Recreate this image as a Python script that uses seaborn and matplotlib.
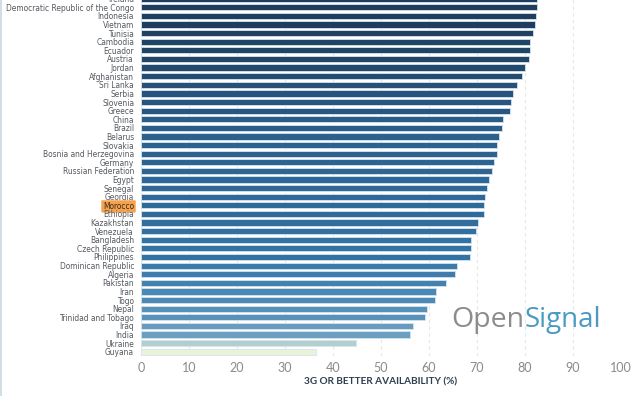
import matplotlib
matplotlib.use("Agg")
import matplotlib.pyplot as plt
from matplotlib.colors import LinearSegmentedColormap
from matplotlib.lines import Line2D
import seaborn as sns
import pandas as pd
import numpy as np

countries = [
    "Ireland", "Democratic Republic of the Congo", "Indonesia", "Vietnam", "Tunisia",
    "Cambodia", "Ecuador", "Austria", "Jordan", "Afghanistan", "Sri Lanka", "Serbia",
    "Slovenia", "Greece", "China", "Brazil", "Belarus", "Slovakia",
    "Bosnia and Herzegovina", "Germany", "Russian Federation", "Egypt", "Senegal",
    "Georgia", "Morocco", "Ethiopia", "Kazakhstan", "Venezuela", "Bangladesh",
    "Czech Republic", "Philippines", "Dominican Republic", "Algeria", "Pakistan",
    "Iran", "Togo", "Nepal", "Trinidad and Tobago", "Iraq", "India", "Ukraine", "Guyana",
]
availability = [
    82.6, 82.5, 82.2, 82.1, 81.7, 81.1, 81.0, 80.8, 79.9, 79.4, 78.4, 77.5,
    77.1, 76.9, 75.4, 75.2, 74.5, 74.2, 74.1, 73.6, 73.1, 72.4, 72.0,
    71.6, 71.5, 71.5, 70.3, 69.7, 68.7, 68.7, 68.5, 65.9, 65.4, 63.5,
    61.4, 61.2, 59.5, 59.1, 56.7, 56.1, 44.8, 36.5,
]
highlight = "Morocco"
x_ticks = [0, 10, 20, 30, 40, 50, 60, 70, 80, 90, 100]
x_label = "3G OR BETTER AVAILABILITY (%)"

df = pd.DataFrame({"country": countries, "value": availability})

# colour scale by value
anchors = [(36.5, "#e8f3da"), (44.8, "#b0cfd0"), (56.0, "#6b9fc1"), (62.0, "#4786b4"),
           (68.7, "#3373a4"), (75.0, "#2c5f8c"), (83.0, "#1e3b5a")]
lo, hi = anchors[0][0], anchors[-1][0]
cmap = LinearSegmentedColormap.from_list(
    "os", [((v - lo) / (hi - lo), c) for v, c in anchors])
palette = [cmap((v - lo) / (hi - lo)) for v in availability]

sns.set_theme(style="white")
plt.rcParams["font.family"] = ["Lato", "DejaVu Sans"]

fig = plt.figure(figsize=(6.4, 3.96), dpi=100)
ax = fig.add_axes([141 / 640, 40 / 396, 480 / 640, 361.6 / 396])

ax.grid(False)
for t in x_ticks:
    ax.axvline(t, color="#e4e6e8", lw=0.8, ls=(0, (3, 3)), zorder=0)

sns.barplot(data=df, x="value", y="country", hue="country", palette=palette,
            legend=False, orient="h", width=0.72, saturation=1,
            edgecolor="#d6e4ee", linewidth=0.6, ax=ax, zorder=2)

ax.set_xlim(0, 100)
ax.set_ylim(len(countries) - 0.5, -0.5)
ax.set_xticks(x_ticks)
ax.set_xticklabels([str(t) for t in x_ticks], fontsize=9, color="#8a8a8a")
ax.tick_params(axis="x", length=0, pad=4)
ax.tick_params(axis="y", length=0, pad=5)
for lab in ax.get_yticklabels():
    lab.set_fontfamily(["DejaVu Sans"])
    lab.set_fontsize(5.45)
    lab.set_color("#555a60")
ax.set_ylabel("")
ax.set_xlabel(x_label, fontsize=7.2, fontweight="bold", color="#2e3f50", labelpad=3)
for s in ax.spines.values():
    s.set_visible(False)

for lab in ax.get_yticklabels():
    if lab.get_text() == highlight:
        lab.set_color("#3a2a1a")
        lab.set_bbox(dict(boxstyle="round,pad=0.2", facecolor="#f5a24e",
                          edgecolor="#f8b877", linewidth=0.6))

# logo text
fig.text(524 / 640, 1 - 327 / 396, "Open", ha="right", va="baseline",
         fontsize=20.5, color="#8c8c8c", family=["Open Sans", "DejaVu Sans"])
fig.text(525 / 640, 1 - 327 / 396, "Signal", ha="left", va="baseline",
         fontsize=20, color="#4a9ac4", family=["Open Sans", "DejaVu Sans"])

fig.add_artist(Line2D([0.0015, 0.0015], [0, 1], transform=fig.transFigure,
                      color="#c6d9de", lw=1.2))

fig.savefig("out.png", dpi=100)
